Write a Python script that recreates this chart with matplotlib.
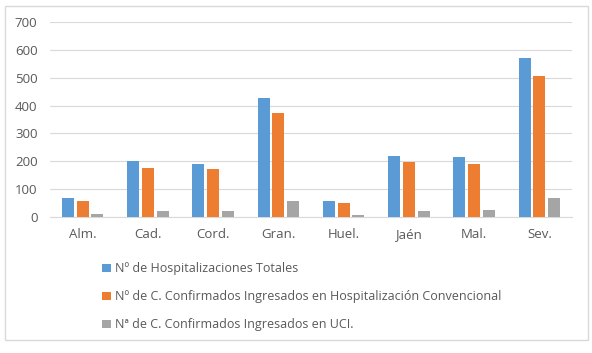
import numpy as np
import matplotlib
matplotlib.use('Agg')
from matplotlib import pyplot as plt
from matplotlib.patches import Rectangle

categories = ['Alm.', 'Cad.', 'Cord.', 'Gran.', 'Huel.', 'Jaén', 'Mal.', 'Sev.']
hosp_totales = [67, 200, 189, 427, 56, 219, 215, 571]
hosp_convencional = [56, 175, 172, 373, 51, 197, 189, 506]
uci = [12, 23, 20, 56, 7, 23, 25, 67]
series_labels = ['Nº de Hospitalizaciones Totales',
                 'Nº de C. Confirmados Ingresados en Hospitalización Convencional',
                 'Nª de C. Confirmados Ingresados en UCI.']
colors = ['#5b9bd5', '#ed7d31', '#a5a5a5']

plt.rcParams['font.family'] = ['Open Sans', 'DejaVu Sans']

fig = plt.figure(figsize=(5.92, 3.53), dpi=100)
ax = fig.add_axes([50/592, 1-217/353, 522/592, 195/353])

x = np.arange(len(categories))
w = 0.184
step = 0.225
handles = []
for i, vals in enumerate([hosp_totales, hosp_convencional, uci]):
    b = ax.bar(x + (i-1)*step, vals, w, color=colors[i], label=series_labels[i], zorder=3)
    handles.append(b)

ax.set_xlim(-0.5, len(categories)-0.5)
ax.set_ylim(0, 700)
ax.set_yticks(range(0, 701, 100))
ax.set_xticks(x)
ax.set_xticklabels(categories)
ax.yaxis.grid(True, color='#d9d9d9', linewidth=0.8, zorder=0)
for s in ['top', 'right', 'left']:
    ax.spines[s].set_visible(False)
ax.spines['bottom'].set_color('#d9d9d9')
ax.tick_params(axis='both', length=0, colors='#595959', labelsize=9.5)
ax.tick_params(axis='x', pad=8)
ax.tick_params(axis='y', pad=9)

fig.legend(handles=handles, labels=series_labels, loc='upper left',
           bbox_to_anchor=(96/592, 1-256/353), frameon=False, fontsize=9,
           handlelength=0.7, handleheight=0.7, handletextpad=0.3,
           labelspacing=1.2, labelcolor='#595959', borderpad=0)

fig.patches.append(Rectangle((5/592, 13/353), 583/592, 334/353, transform=fig.transFigure,
                             fill=False, edgecolor='#d9d9d9', linewidth=1))

fig.savefig('out.png', dpi=100, facecolor='white')
